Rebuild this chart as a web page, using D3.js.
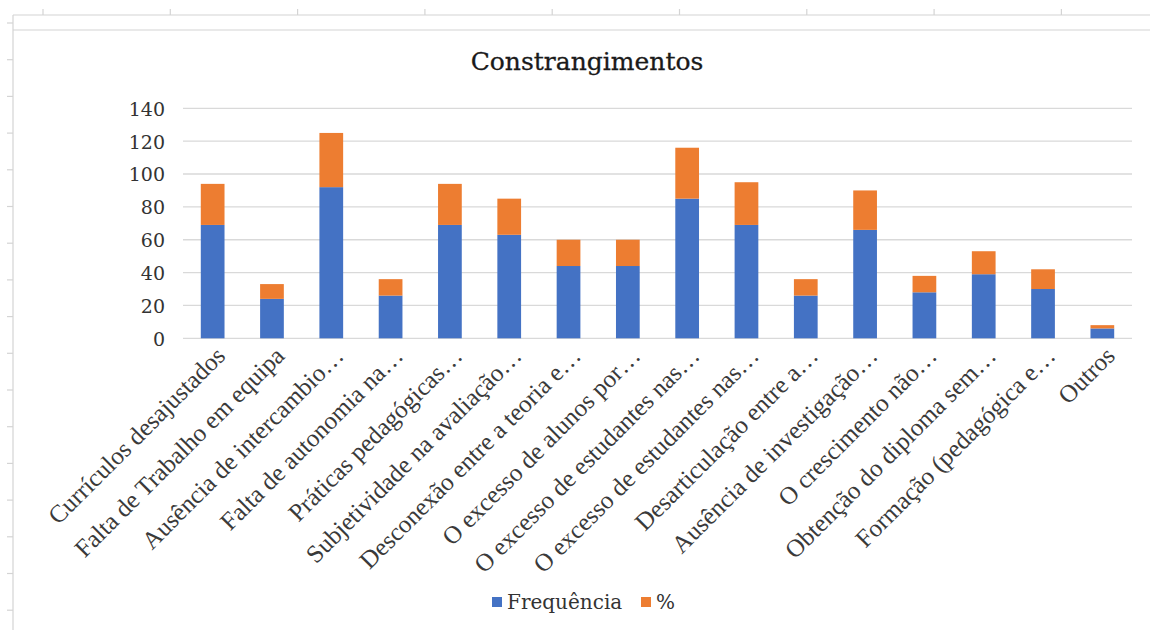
<!DOCTYPE html>
<html>
<head>
<meta charset="utf-8">
<script src="https://cdn.jsdelivr.net/npm/d3@7/dist/d3.min.js"></script>
<style>
  html, body { margin: 0; padding: 0; background: #fff; }
  svg { display: block; }
</style>
</head>
<body>
<svg id="chart" width="1154" height="630"></svg>
<script>
// Categories of constraints (labels as truncated on the axis)
const categories = [
  "Currículos desajustados",
  "Falta de Trabalho em equipa",
  "Ausência de intercambio…",
  "Falta de autonomia na…",
  "Práticas pedagógicas…",
  "Subjetividade na avaliação…",
  "Desconexão entre a teoria e…",
  "O excesso de alunos por…",
  "O excesso de estudantes nas…",
  "O excesso de estudantes nas…",
  "Desarticulação entre a…",
  "Ausência de investigação…",
  "O crescimento não…",
  "Obtenção do diploma sem…",
  "Formação (pedagógica e…",
  "Outros"
];

// Series values
const frequencia = [69, 24, 92, 26, 69, 63, 44, 44, 85, 69, 26, 66, 28, 39, 30, 6];
const percentagem = [25, 9, 33, 10, 25, 22, 16, 16, 31, 26, 10, 24, 10, 14, 12, 2];

// Value axis ticks
const yTicks = [0, 20, 40, 60, 80, 100, 120, 140];

const seriesNames = ["Frequência", "%"];
const seriesColors = ["#4472C4", "#ED7D31"];

const svg = d3.select("#chart");
const W = 1154, H = 630;

// Spreadsheet backdrop behind the chart object
const bg = svg.append("g").attr("stroke", "#d4d4d4").attr("stroke-width", 1.2).attr("fill", "none");
bg.append("line").attr("x1", 13).attr("x2", 1150).attr("y1", 15).attr("y2", 15);
bg.append("line").attr("x1", 13).attr("x2", 13).attr("y1", 15).attr("y2", H);
d3.range(43, 1150, 127.3).forEach(x => {
  bg.append("line").attr("x1", x).attr("x2", x).attr("y1", 9).attr("y2", 15);
});
d3.range(23, H, 36.7).forEach(y => {
  bg.append("line").attr("x1", 7).attr("x2", 13).attr("y1", y).attr("y2", y);
});
// Chart object border (top edge)
bg.append("line").attr("x1", 13).attr("x2", 1150).attr("y1", 30).attr("y2", 30);

const plot = { left: 183, right: 1132, top: 108.3, bottom: 338.3 };

const x = d3.scaleBand()
  .domain(d3.range(categories.length))
  .range([plot.left, plot.right])
  .paddingInner(0.6)
  .paddingOuter(0.3);

const y = d3.scaleLinear()
  .domain([0, 140])
  .range([plot.bottom, plot.top]);

// Horizontal gridlines
svg.append("g")
  .selectAll("line")
  .data(yTicks)
  .join("line")
  .attr("x1", plot.left).attr("x2", plot.right)
  .attr("y1", d => y(d)).attr("y2", d => y(d))
  .attr("stroke", "#d9d9d9")
  .attr("stroke-width", 1.3);

// Value axis labels
const yAxis = svg.append("g")
  .attr("transform", `translate(${plot.left - 18},0)`)
  .call(d3.axisLeft(y).tickValues(yTicks).tickSize(0).tickPadding(0));
yAxis.select(".domain").remove();
yAxis.selectAll("text")
  .attr("font-family", "'DejaVu Serif', serif")
  .attr("font-size", 19)
  .attr("fill", "#333")
  .attr("dy", "0.36em");

// Stacked bars
const rows = categories.map((c, i) => ({ i, f: frequencia[i], p: percentagem[i] }));
const stack = d3.stack().keys(["f", "p"]);
const layers = stack(rows);

svg.append("g")
  .selectAll("g")
  .data(layers)
  .join("g")
  .attr("fill", (d, k) => seriesColors[k])
  .selectAll("rect")
  .data(d => d)
  .join("rect")
  .attr("x", d => x(d.data.i))
  .attr("width", x.bandwidth())
  .attr("y", d => y(d[1]))
  .attr("height", d => y(d[0]) - y(d[1]));

// Category labels, rotated
svg.append("g")
  .selectAll("text")
  .data(categories)
  .join("text")
  .attr("transform", (d, i) => `translate(${x(i) + x.bandwidth() / 2 + 14},${plot.bottom + 19}) rotate(-45)`)
  .attr("text-anchor", "end")
  .attr("font-family", "'Liberation Serif', serif")
  .attr("font-size", 25)
  .attr("fill", "#3a3a3a")
  .text(d => d);

// Title
svg.append("text")
  .attr("x", 587)
  .attr("y", 70)
  .attr("text-anchor", "middle")
  .attr("font-family", "'DejaVu Serif', serif")
  .attr("font-size", 25)
  .attr("fill", "#1a1a1a")
  .attr("stroke", "#1a1a1a")
  .attr("stroke-width", 0.3)
  .text("Constrangimentos");

// Legend
const legend = svg.append("g").attr("font-family", "'DejaVu Serif', serif").attr("font-size", 20).attr("fill", "#333");
const legendX = [492, 641];
seriesNames.forEach((name, k) => {
  legend.append("rect")
    .attr("x", legendX[k]).attr("y", 597)
    .attr("width", 10).attr("height", 10)
    .attr("fill", seriesColors[k]);
  legend.append("text")
    .attr("x", legendX[k] + 15).attr("y", 609)
    .text(name);
});
</script>
</body>
</html>
